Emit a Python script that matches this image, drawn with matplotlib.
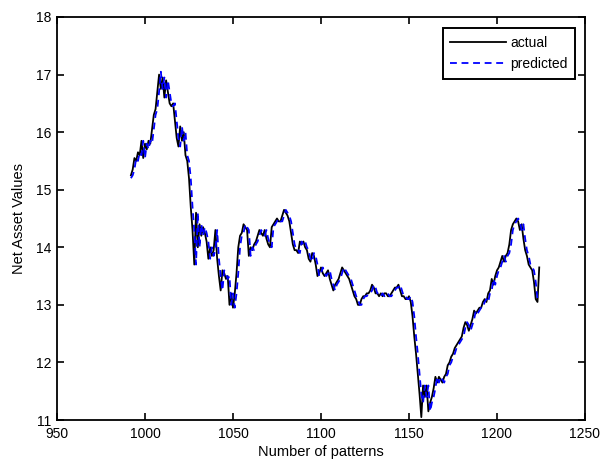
import numpy as np
import matplotlib
matplotlib.use("Agg")
import matplotlib.pyplot as plt

plt.rcParams['font.family'] = ['Liberation Sans', 'DejaVu Sans']

# Pattern indices (one value per pattern)
start_pattern = 992

actual = [
    15.25, 15.35, 15.55, 15.50, 15.65, 15.60, 15.85, 15.55, 15.80, 15.70,
    15.85, 15.80, 16.05, 16.30, 16.40, 16.70, 17.00, 16.75, 16.95, 16.60,
    16.90, 16.70, 16.50, 16.45, 16.50, 16.20, 15.90, 15.75, 16.10, 15.85,
    16.00, 15.60, 15.50, 15.20, 14.70, 14.30, 13.70, 14.60, 14.00, 14.40,
    14.20, 14.35, 14.25, 14.10, 13.80, 14.00, 13.85, 13.95, 14.30, 13.80,
    13.50, 13.25, 13.60, 13.55, 13.45, 13.50, 13.00, 13.20, 12.95, 13.20,
    13.55, 14.00, 14.20, 14.25, 14.40, 14.35, 14.30, 13.85, 14.00, 13.95,
    14.05, 14.10, 14.20, 14.30, 14.25, 14.20, 14.30, 14.15, 14.05, 14.00,
    14.35, 14.40, 14.45, 14.50, 14.45, 14.45, 14.55, 14.65, 14.60, 14.55,
    14.45, 14.25, 14.05, 13.95, 13.95, 13.90, 14.10, 14.05, 14.10, 14.00,
    13.95, 13.80, 13.75, 13.90, 13.85, 13.70, 13.50, 13.55, 13.65, 13.55,
    13.50, 13.55, 13.60, 13.45, 13.35, 13.25, 13.35, 13.40, 13.45, 13.55,
    13.65, 13.60, 13.55, 13.50, 13.45, 13.35, 13.25, 13.15, 13.10, 13.00,
    13.00, 13.10, 13.15, 13.15, 13.20, 13.20, 13.25, 13.35, 13.30, 13.20,
    13.20, 13.15, 13.20, 13.15, 13.20, 13.20, 13.15, 13.15, 13.20, 13.25,
    13.30, 13.30, 13.35, 13.25, 13.15, 13.15, 13.10, 13.10, 13.15, 13.05,
    12.80, 12.45, 12.15, 11.80, 11.45, 11.05, 11.60, 11.40, 11.60, 11.15,
    11.30, 11.40, 11.55, 11.75, 11.65, 11.75, 11.70, 11.65, 11.75, 11.80,
    11.95, 12.00, 12.10, 12.15, 12.25, 12.30, 12.35, 12.40, 12.45, 12.60,
    12.70, 12.65, 12.55, 12.65, 12.75, 12.90, 12.85, 12.90, 12.95, 12.95,
    13.05, 13.10, 13.05, 13.20, 13.25, 13.45, 13.35, 13.50, 13.60, 13.65,
    13.75, 13.85, 13.75, 13.85, 13.90, 14.05, 14.30, 14.40, 14.45, 14.50,
    14.45, 14.30, 14.40, 14.15, 13.95, 13.85, 13.70, 13.65, 13.60, 13.40,
    13.10, 13.05, 13.65,
]

predicted = [
    15.20, 15.25, 15.35, 15.55, 15.50, 15.65, 15.60, 15.85, 15.55, 15.80,
    15.70, 15.85, 15.80, 16.05, 16.30, 16.40, 16.70, 17.05, 16.75, 16.95,
    16.60, 16.90, 16.70, 16.50, 16.45, 16.50, 16.20, 15.90, 15.75, 16.10,
    15.85, 16.00, 15.60, 15.50, 15.20, 14.70, 14.30, 13.70, 14.60, 14.00,
    14.40, 14.20, 14.35, 14.25, 14.10, 13.80, 14.00, 13.85, 13.95, 14.30,
    13.80, 13.50, 13.25, 13.60, 13.55, 13.45, 13.50, 13.00, 13.20, 12.95,
    13.20, 13.55, 14.00, 14.20, 14.25, 14.40, 14.35, 14.30, 13.85, 14.00,
    13.95, 14.05, 14.10, 14.20, 14.30, 14.25, 14.20, 14.30, 14.15, 14.05,
    14.00, 14.35, 14.40, 14.45, 14.50, 14.45, 14.45, 14.55, 14.65, 14.60,
    14.55, 14.45, 14.25, 14.05, 13.95, 13.95, 13.90, 14.10, 14.05, 14.10,
    14.00, 13.95, 13.80, 13.75, 13.90, 13.85, 13.70, 13.50, 13.55, 13.65,
    13.55, 13.50, 13.55, 13.60, 13.45, 13.35, 13.25, 13.35, 13.40, 13.45,
    13.55, 13.65, 13.60, 13.55, 13.50, 13.45, 13.35, 13.25, 13.15, 13.10,
    13.00, 13.00, 13.10, 13.15, 13.15, 13.20, 13.20, 13.25, 13.35, 13.30,
    13.20, 13.20, 13.15, 13.20, 13.15, 13.20, 13.20, 13.15, 13.15, 13.20,
    13.25, 13.30, 13.30, 13.35, 13.25, 13.15, 13.15, 13.10, 13.10, 13.15,
    13.05, 12.80, 12.45, 12.15, 11.80, 11.45, 11.30, 11.60, 11.40, 11.60,
    11.15, 11.30, 11.40, 11.55, 11.75, 11.65, 11.75, 11.70, 11.65, 11.75,
    11.80, 11.95, 12.00, 12.10, 12.15, 12.25, 12.30, 12.35, 12.40, 12.45,
    12.60, 12.70, 12.65, 12.55, 12.65, 12.75, 12.90, 12.85, 12.90, 12.95,
    12.95, 13.05, 13.10, 13.05, 13.20, 13.25, 13.45, 13.35, 13.50, 13.60,
    13.65, 13.75, 13.85, 13.75, 13.85, 13.90, 14.05, 14.30, 14.40, 14.45,
    14.50, 14.45, 14.30, 14.40, 14.15, 13.95, 13.85, 13.70, 13.65, 13.60,
    13.40, 13.10, 13.05,
]

x_ticks = [950, 1000, 1050, 1100, 1150, 1200, 1250]
y_ticks = [11, 12, 13, 14, 15, 16, 17, 18]

patterns = np.arange(start_pattern, start_pattern + len(actual))

fig = plt.figure(figsize=(6.09, 4.61), dpi=100)
ax = fig.add_axes([57 / 609, 1 - 420 / 461, (585 - 57) / 609, (420 - 17) / 461])

ax.plot(patterns, actual, color='black', lw=1.3, label='actual')
ax.plot(patterns, predicted, color='blue', lw=1.3, ls=(0, (3.8, 2.6)), label='predicted')

ax.set_xlim(950, 1250)
ax.set_ylim(11, 18)
ax.set_xticks(x_ticks)
ax.set_yticks(y_ticks)
ax.tick_params(axis='both', direction='in', top=True, right=True, length=5, width=1.2,
               labelsize=10)
ax.tick_params(axis='x', pad=5)
ax.tick_params(axis='y', pad=4)
for s in ax.spines.values():
    s.set_linewidth(1.3)
    s.set_color('black')

ax.set_xlabel('Number of patterns', fontsize=10.5, labelpad=3)
ax.set_ylabel('Net Asset Values', fontsize=10.5, labelpad=7)

leg = ax.legend(loc='upper right', bbox_to_anchor=((575 - 57) / 528, 1 - (28 - 17) / 403),
                fontsize=10, handlelength=4.0, handletextpad=0.3,
                borderpad=0.55, labelspacing=0.55, fancybox=False,
                framealpha=1, borderaxespad=0)
leg.get_frame().set_edgecolor('black')
leg.get_frame().set_linewidth(1.4)

fig.savefig('out.png', dpi=100)
